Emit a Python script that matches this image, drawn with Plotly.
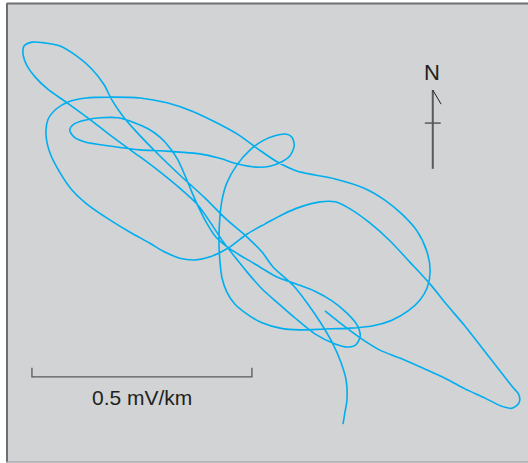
import plotly.graph_objects as go

# Telluric field hodograph: eastward / northward components (mV/km)
east = [
    0.125, 0.159, 0.205, 0.250, 0.295, 0.352, 0.402, 0.443, 0.489, 0.525,
    0.550, 0.566, 0.566, 0.550, 0.500, 0.443, 0.402, 0.364, 0.318, 0.273,
    0.227, 0.182, 0.148, 0.114, 0.068, 0.030, -0.011, -0.052, -0.095, -0.136,
    -0.170, -0.205, -0.239, -0.273, -0.318, -0.364, -0.416, -0.450, -0.477, -0.500,
    -0.509, -0.505, -0.486, -0.459, -0.418, -0.364, -0.295, -0.234, -0.177, -0.120,
    -0.068, -0.027, 0.016, 0.061, 0.102, 0.148, 0.214, 0.261, 0.300, 0.334,
    0.357, 0.364, 0.357, 0.341, 0.314, 0.277, 0.232, 0.182, 0.125, 0.068,
    0.023, -0.018, -0.052, -0.080, -0.098, -0.109, -0.114, -0.116, -0.114, -0.109,
    -0.098, -0.075, -0.045, -0.018, 0.011, 0.036, 0.050, 0.055, 0.045, 0.027,
    0.000, -0.032, -0.073, -0.118, -0.159, -0.205, -0.250, -0.295, -0.364, -0.420,
    -0.445, -0.455, -0.445, -0.418, -0.386, -0.345, -0.311, -0.277, -0.250, -0.227,
    -0.209, -0.189, -0.168, -0.145, -0.123, -0.091, -0.057, -0.023, 0.016, 0.061,
    0.102, 0.141, 0.175, 0.198, 0.205, 0.195, 0.175, 0.148, 0.102, 0.057,
    0.018, -0.018, -0.050, -0.080, -0.109, -0.136, -0.164, -0.205, -0.250, -0.295,
    -0.330, -0.364, -0.405, -0.461, -0.505, -0.534, -0.552, -0.561, -0.559, -0.541,
    -0.511, -0.477, -0.439, -0.405, -0.377, -0.359, -0.336, -0.307, -0.257, -0.205,
    -0.148, -0.102, -0.052, -0.018, 0.007, 0.052, 0.086, 0.114, 0.141, 0.161,
    0.173, 0.175, 0.170, 0.166,
]
north = [
    -0.184, -0.211, -0.245, -0.273, -0.291, -0.316, -0.339, -0.361, -0.382, -0.400,
    -0.405, -0.393, -0.375, -0.355, -0.291, -0.218, -0.170, -0.123, -0.073, -0.025,
    0.016, 0.048, 0.064, 0.064, 0.052, 0.036, 0.014, -0.009, -0.041, -0.061,
    -0.068, -0.064, -0.050, -0.030, -0.005, 0.023, 0.059, 0.091, 0.130, 0.175,
    0.216, 0.250, 0.275, 0.291, 0.300, 0.302, 0.300, 0.289, 0.270, 0.243,
    0.214, 0.184, 0.155, 0.134, 0.125, 0.116, 0.095, 0.068, 0.036, -0.002,
    -0.050, -0.095, -0.132, -0.159, -0.184, -0.205, -0.218, -0.223, -0.225, -0.227,
    -0.223, -0.211, -0.191, -0.168, -0.141, -0.109, -0.068, -0.023, 0.027, 0.068,
    0.107, 0.148, 0.182, 0.202, 0.214, 0.218, 0.211, 0.191, 0.168, 0.155,
    0.145, 0.143, 0.150, 0.164, 0.173, 0.177, 0.180, 0.182, 0.191, 0.200,
    0.211, 0.227, 0.241, 0.250, 0.255, 0.255, 0.245, 0.230, 0.211, 0.186,
    0.159, 0.114, 0.064, 0.018, -0.016, -0.043, -0.064, -0.084, -0.107, -0.123,
    -0.139, -0.161, -0.189, -0.216, -0.241, -0.261, -0.266, -0.259, -0.236, -0.200,
    -0.166, -0.134, -0.098, -0.061, -0.023, 0.018, 0.057, 0.095, 0.132, 0.166,
    0.191, 0.216, 0.248, 0.289, 0.320, 0.348, 0.373, 0.398, 0.418, 0.427,
    0.425, 0.418, 0.395, 0.366, 0.330, 0.295, 0.261, 0.227, 0.175, 0.125,
    0.073, 0.027, -0.016, -0.050, -0.084, -0.125, -0.168, -0.209, -0.255, -0.300,
    -0.341, -0.386, -0.416, -0.441,
]

# Scale bar and its label
scale_value = 0.5          # mV/km
scale_label = "0.5 mV/km"
scale_start = -0.541       # east position of the bar's left end
scale_level = -0.334       # north position of the bar

# North arrow position (mV/km frame)
arrow_e = 0.370
arrow_top = 0.318
arrow_bottom = 0.139

CURVE = "#00AEEF"
PANEL = "#D1D3D4"
INK = "#231F20"

fig = go.Figure()

fig.add_trace(go.Scatter(
    x=east, y=north, mode="lines",
    line=dict(color=CURVE, width=1.6, shape="spline", smoothing=0.8),
    hoverinfo="skip", showlegend=False,
))

# scale bar with end ticks
bar_end = scale_start + scale_value
tick_h = 0.021
fig.add_trace(go.Scatter(
    x=[scale_start, scale_start, bar_end, bar_end],
    y=[scale_level + tick_h, scale_level, scale_level, scale_level + tick_h],
    mode="lines", line=dict(color="#58595B", width=1.3),
    hoverinfo="skip", showlegend=False,
))
fig.add_annotation(
    x=(scale_start + bar_end) / 2, y=scale_level - 0.046,
    text=scale_label, showarrow=False,
    font=dict(family="Liberation Sans", size=21, color=INK),
    xanchor="center", yanchor="middle",
)

# north arrow: shaft, cross bar, half barb
fig.add_trace(go.Scatter(
    x=[arrow_e, arrow_e], y=[arrow_top, arrow_bottom], mode="lines",
    line=dict(color="#58595B", width=2), hoverinfo="skip", showlegend=False,
))
fig.add_trace(go.Scatter(
    x=[arrow_e - 0.018, arrow_e + 0.018], y=[0.243, 0.243], mode="lines",
    line=dict(color="#58595B", width=1.5), hoverinfo="skip", showlegend=False,
))
fig.add_trace(go.Scatter(
    x=[arrow_e, arrow_e + 0.019], y=[arrow_top, arrow_top - 0.032], mode="lines",
    line=dict(color=INK, width=1), hoverinfo="skip", showlegend=False,
))
fig.add_annotation(
    x=arrow_e - 0.002, y=0.357, text="N", showarrow=False,
    font=dict(family="Liberation Sans Narrow, Liberation Sans", size=22, color=INK),
    xanchor="center", yanchor="middle",
)

# panel background and frame
W, H = 528, 463
fig.add_shape(type="rect", xref="paper", yref="paper", layer="below",
              x0=8 / W, x1=1, y0=1 / H, y1=1 - 4 / H,
              fillcolor=PANEL, line=dict(width=0))
fig.add_shape(type="line", xref="paper", yref="paper",
              x0=7 / W, x1=1, y0=1 - 3.5 / H, y1=1 - 3.5 / H,
              line=dict(color="#6D6E71", width=2))
fig.add_shape(type="line", xref="paper", yref="paper",
              x0=7 / W, x1=7 / W, y0=0.5 / H, y1=1 - 3 / H,
              line=dict(color="#6D6E71", width=2))
fig.add_shape(type="line", xref="paper", yref="paper",
              x0=7 / W, x1=1, y0=1 / H, y1=1 / H,
              line=dict(color="#A7A9AC", width=1.5))

fig.update_xaxes(range=[-0.6136, 0.5864], visible=False, fixedrange=True)
fig.update_yaxes(range=[-0.5295, 0.5227], visible=False, fixedrange=True)
fig.update_layout(
    width=W, height=H, margin=dict(l=0, r=0, t=0, b=0),
    paper_bgcolor="white", plot_bgcolor="rgba(0,0,0,0)",
)

fig.write_html("out.html", config={"displayModeBar": False})
